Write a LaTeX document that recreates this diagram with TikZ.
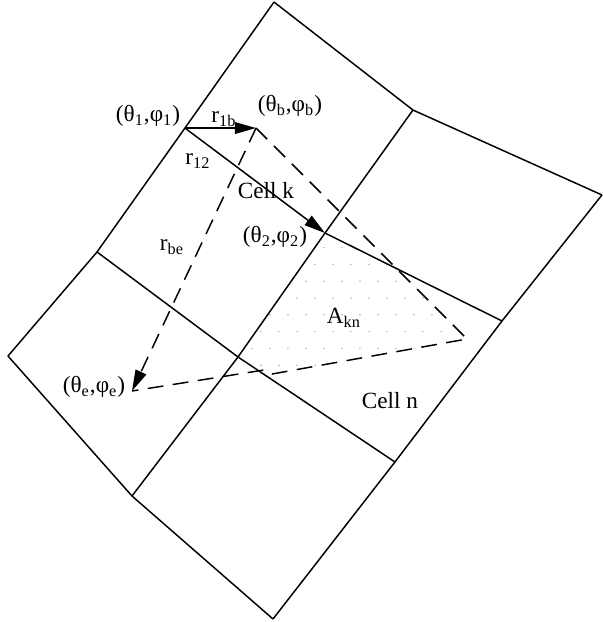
\documentclass[tikz,border=0pt]{standalone}
\usepackage{fontspec}
\setmainfont{Liberation Serif}
\usetikzlibrary{calc,arrows.meta}

\begin{document}
\begin{tikzpicture}[line join=round,
  cellline/.style={black, line width=0.7pt},
  dashline/.style={black, line width=0.7pt, dash pattern=on 7.5pt off 4.5pt},
  vec/.style={-{Triangle[length=10pt,width=5.5pt]}},
  lbl/.style={font=\fontsize{11}{13}\selectfont, inner sep=0pt}]
\useasboundingbox (0,0) rectangle (10.05,10.367);
% grid points
\coordinate (t) at (4.567,10.333); \coordinate (b) at (6.883,8.533); \coordinate (r) at (10.033,7.117);
\coordinate (p1) at (3.083,8.233); \coordinate (p2) at (5.417,6.483); \coordinate (j) at (8.367,5.017);
\coordinate (w) at (1.617,6.167); \coordinate (q) at (3.967,4.417); \coordinate (u) at (6.583,2.667);
\coordinate (l) at (0.133,4.433); \coordinate (m) at (2.200,2.100); \coordinate (bt) at (4.550,0.050);
% triangle points
\coordinate (pb) at (4.267,8.233); \coordinate (pc) at (7.783,4.717); \coordinate (pe) at (2.200,3.850);
\coordinate (x) at (6.650,5.867); \coordinate (k1) at (4.533,4.133); \coordinate (k2) at (4.400,4.200);
% A_kn, sparse dots
\begin{scope}\clip (p2) -- (x) -- (pc) -- (k1) -- (q) -- cycle;
\foreach \i in {0,...,14} \foreach \j in {0,...,9}
  \fill[gray!60] ({3.90+0.30*\i+0.15*mod(\j,2)},{4.00+0.28*\j}) circle (0.4pt);
\end{scope}
% cells
\draw[cellline] (t) -- (b) -- (r);
\draw[cellline] (p2) -- (j);
\draw[cellline] (w) -- (q) -- (u);
\draw[cellline] (l) -- (m) -- (bt);
\draw[cellline] (t) -- (p1) -- (w) -- (l);
\draw[cellline] (b) -- (p2) -- (q) -- (m);
\draw[cellline] (r) -- (j) -- (u) -- (bt);
% vectors
\draw[cellline, vec] (p1) -- (pb);
\draw[cellline, vec] (p1) -- (p2);
\draw[dashline] (pb) -- (pc) -- (k1) -- (k2) -- (pe);
\draw[dashline, vec] (pb) -- (pe);
% labels
\node[lbl] (n1) at (2.467,8.433) {(θ\textsubscript{1},φ\textsubscript{1})};
\node[lbl] (nb) at (4.833,8.600) {(θ\textsubscript{b},φ\textsubscript{b})};
\node[lbl] (n2) at (4.583,6.417) {(θ\textsubscript{2},φ\textsubscript{2})};
\node[lbl] (ne) at (1.567,3.917) {(θ\textsubscript{e},φ\textsubscript{e})};
\node[lbl] (r1b) at (3.733,8.383) {r\textsubscript{1b}};
\node[lbl] (r12) at (3.300,7.683) {r\textsubscript{12}};
\node[lbl] (rbe) at (2.867,6.250) {r\textsubscript{be}};
\node[lbl] (akn) at (5.733,5.067) {A\textsubscript{kn}};
\node[lbl] (ck) at (4.433,7.183) {Cell k};
\node[lbl] (cn) at (6.500,3.683) {Cell n};
\end{tikzpicture}
\end{document}
